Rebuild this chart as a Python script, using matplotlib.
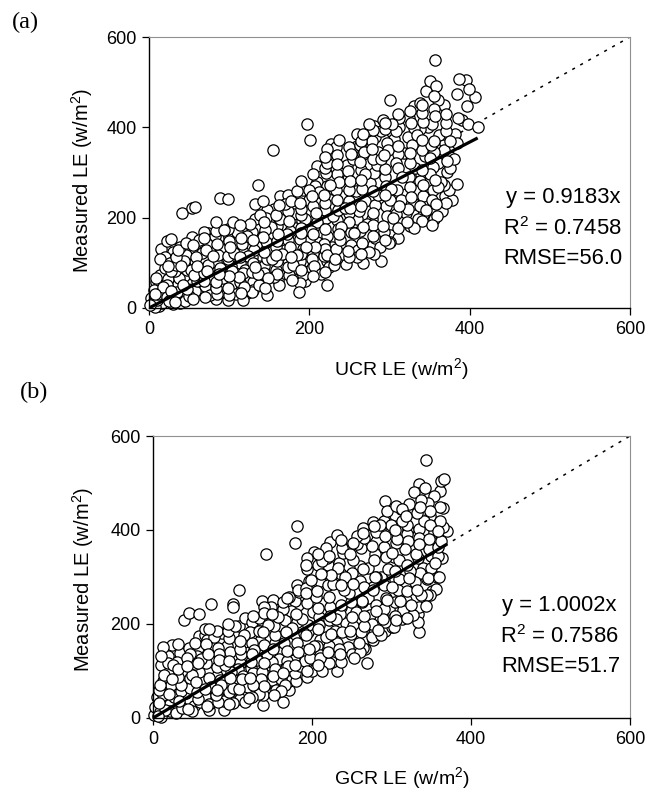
import matplotlib
matplotlib.use('Agg')
import matplotlib.pyplot as plt

# Werte (x, y in w/m2)
ucr_edge = [(41,210),(54,221),(58,224),(88,244),(98,241),(136,272),(155,350),(197,407),(201,372),(301,461),
    (357,549),(387,508),(396,504),(351,502),(358,491),(346,480),(399,484),(384,474),(407,467),(361,460),
    (397,447),(330,447),(338,453),(386,420),(391,416),(398,407),(411,400),(382,386),(368,386),
    (384,366),(375,335),(375,311),(384,274),(369,247),(359,204),(353,184),(342,206),(330,177),(300,147),(290,103),
    (22,149),(27,153),(15,130),(14,109),(39,136),(30,125),(54,157),(69,169),(73,167),(84,190),(105,190),(86,156),
    (115,175),(126,186),(132,230),(142,238),(139,205),(164,248),(174,250),(189,282),(190,244),(184,258),(199,261),
    (210,280),(210,315),(222,352),(227,362),(237,372),(234,339),(231,325),(221,298),(222,322),(247,316),(260,386),
    (267,386),(259,359),(263,361),(275,408),(281,403),(292,416),(303,408),(303,390),(286,346),
    (1,7),(12,4),(39,12),(50,26),(84,21),(98,18),(117,18),(122,33),(147,29),(137,52),(161,63),(156,68),(187,35),
    (195,59),(188,55),(222,52),(184,66),(203,88),(231,96),(222,105),(267,99),(281,119),(256,130),(261,129),
    (299,144),(279,140)]
ucr_inner = [(3,22),(6,40),(9,58),(5,12),(11,30),(14,72),(16,10),(18,46),(20,88),(8,2),
    (22,24),(24,64),(26,100),(28,38),(30,8),(32,82),(34,112),(36,54),(38,26),(40,94),
    (44,70),(46,118),(48,42),(50,135),(52,84),(55,20),(57,105),(60,60),(62,150),(64,34),
    (66,122),(68,78),(70,48),(72,142),(74,96),(76,28),(78,64),(80,116),(82,160),(84,44),
    (88,88),(90,130),(92,66),(94,172),(96,34),(98,108),(100,148),(102,52),(104,82),(106,122),
    (108,30),(110,168),(112,68),(114,100),(116,142),(118,46),(120,84),(122,160),(124,116),(126,62),
    (128,36),(130,100),(132,178),(134,138),(136,76),(138,118),(140,52),(142,158),(144,94),(146,200),
    (148,66),(150,130),(152,180),(154,108),(156,220),(158,84),(160,148),(162,52),(164,196),(166,120),
    (168,78),(170,230),(172,164),(174,100),(176,136),(178,62),(180,208),(182,178),(184,118),(186,86),
    (188,152),(190,220),(192,72),(194,196),(196,134),(198,104),(200,240),(202,170),(204,120),(206,92),
    (208,210),(210,146),(212,256),(214,76),(216,186),(218,116),(220,232),(222,160),(224,90),(226,272),
    (228,134),(230,204),(232,108),(234,296),(236,176),(238,150),(240,248),(242,120),(244,222),(246,98),
    (248,286),(250,190),(252,140),(254,330),(256,166),(258,260),(260,112),(262,214),(264,306),(266,144),
    (268,346),(270,238),(272,186),(274,124),(276,276),(278,370),(280,210),(282,156),(284,316),(286,250),
    (288,136),(290,392),(292,182),(294,290),(296,226),(298,350),(300,162),(302,264),(304,200),(306,374),
    (308,320),(310,178),(312,400),(314,240),(316,290),(318,344),(320,210),(322,190),(324,420),(326,268),
    (328,360),(330,230),(332,310),(334,384),(336,196),(338,282),(340,432),(342,248),(344,336),(346,218),
    (348,400),(350,296),(352,360),(354,262),(356,440),(358,230),(360,322),(362,382),(364,280),(366,214),
    (368,350),(370,410),(372,300),(374,262),(376,370),(378,240),(380,330),(100,70),(130,58),(160,104),
    (180,96),(200,148),(220,130),(240,180),(260,196),(280,184),(300,240),(320,252),(340,306),(360,268),
    (250,236),(270,296),(290,330),(310,340),(330,398),(350,332),(230,264),(210,190),(190,178),(170,128)]
ucr_fill = [(10,18),(7,30),(12,48),(9,66),(25,15),(22,50),(27,82),(24,92),(20,112),
    (35,35),(33,14),(37,66),(34,96),(36,128),(32,108),(45,16),(43,52),(47,84),(44,104),(46,144),
    (58,38),(56,72),(60,92),(57,128),(59,112),(55,140),(70,24),(68,60),(72,82),(69,110),(71,128),(68,156),
    (85,32),(83,58),(87,76),(84,102),(86,118),(85,142),(83,170),(100,28),(98,44),(102,92),(99,116),(101,134),(100,160),(98,176),
    (115,34),(113,58),(117,78),(114,112),(116,128),(115,154),(113,184),(130,40),(128,80),(132,90),(129,112),(131,128),(130,150),(128,168),(132,198),
    (145,44),(143,78),(147,108),(144,124),(146,146),(145,172),(143,190),(147,216),(160,76),(158,118),(162,92),(159,136),(161,164),(160,182),(158,206),(162,228),
    (175,74),(173,90),(177,112),(174,150),(176,170),(175,192),(173,214),(177,238),(190,84),(188,104),(192,130),(189,166),(191,192),(190,206),(188,232),(192,262),(189,120),
    (205,70),(203,108),(207,134),(204,164),(206,182),(205,226),(203,248),(207,270),(205,296),(220,80),(218,142),(222,118),(219,176),(221,200),(220,216),(218,250),(222,270),(220,310),(219,335),
    (235,110),(233,130),(237,164),(234,194),(236,218),(235,240),(233,262),(237,280),(235,318),(233,356),(250,112),(248,126),(252,168),(249,210),(251,222),(250,262),(248,304),(252,340),(250,356),(251,282),
    (265,120),(263,170),(267,180),(264,226),(266,264),(265,284),(263,324),(267,340),(265,370),(280,160),(278,196),(282,228),(279,260),(281,298),(280,330),(278,352),(282,378),(280,395),
    (295,150),(293,168),(297,204),(294,250),(296,270),(295,308),(293,338),(297,366),(295,396),(294,410),(310,156),(308,208),(312,226),(309,262),(311,310),(310,358),(308,392),(312,420),(310,430),
    (325,182),(323,220),(327,246),(324,290),(326,322),(325,344),(323,378),(327,410),(325,436),(340,192),(338,226),(342,272),(339,296),(341,350),(340,372),(338,396),(342,412),(340,450),
    (355,196),(353,240),(357,284),(354,312),(356,346),(355,370),(353,408),(357,424),(355,470),(370,232),(368,272),(372,326),(369,366),(371,392),(370,430),(368,450)]

gcr_edge = [(39,209),(45,223),(58,222),(73,242),(101,242),(101,236),(108,272),(142,350),(181,408),(179,372),(292,462),
    (31,157),(24,155),(12,151),(10,132),(19,132),(10,112),(47,137),(48,128),(65,190),(71,190),(58,174),(68,167),
    (94,186),(114,162),(116,213),(133,213),(137,249),(151,252),(171,257),(181,284),(184,268),(192,325),(194,316),
    (202,353),(218,362),(223,374),(231,389),(213,333),(220,326),(244,359),(256,387),(264,404),(277,417),(286,410),
    (296,427),(305,432),(313,445),
    (343,550),(362,505),(366,509),(335,498),(342,490),(328,481),(361,484),(353,472),(337,463),(365,447),
    (312,445),(365,406),(370,397),(356,275),(345,261),(335,183),(333,204),(327,220),(313,210),(301,194),(287,176),
    (1,6),(10,2),(49,14),(70,18),(89,18),(116,34),(138,28),(163,35),(161,57),(171,60),(133,52),(140,69),(194,87),
    (200,101),(213,101),(231,99),(269,118),(260,140),(277,167),(303,194),(292,204),(231,132),(210,135)]
gcr_inner = [(3,24),(5,44),(7,60),(9,12),(11,34),(13,78),(15,18),(17,52),(19,96),(6,4),
    (21,30),(23,70),(25,112),(27,44),(29,10),(31,88),(33,124),(35,58),(37,22),(39,100),
    (41,74),(43,128),(45,40),(47,64),(49,92),(51,26),(53,114),(55,56),(57,148),(59,34),
    (61,126),(63,80),(65,46),(67,158),(69,100),(71,30),(73,66),(75,120),(77,172),(79,50),
    (81,90),(83,136),(85,70),(87,180),(89,36),(91,112),(93,154),(95,56),(97,86),(99,128),
    (101,32),(103,196),(105,72),(107,104),(109,146),(111,52),(113,90),(115,176),(117,122),(119,66),
    (121,42),(123,106),(125,204),(127,144),(129,80),(131,124),(133,186),(135,164),(137,98),(139,224),
    (141,70),(143,136),(145,198),(147,112),(149,236),(151,90),(153,160),(155,60),(157,214),(159,126),
    (161,84),(163,246),(165,176),(167,106),(169,142),(171,78),(173,228),(175,192),(177,124),(179,96),
    (181,160),(183,240),(185,110),(187,210),(189,142),(191,122),(193,276),(195,182),(197,128),(199,294),
    (201,226),(203,154),(205,258),(207,118),(209,198),(211,306),(213,138),(215,244),(217,172),(219,340),
    (221,154),(223,216),(225,120),(227,286),(229,186),(231,160),(233,320),(235,136),(237,236),(239,352),
    (241,300),(243,202),(245,152),(247,266),(249,178),(251,336),(253,128),(255,226),(257,370),(259,160),
    (261,292),(263,250),(265,196),(267,146),(269,390),(271,320),(273,220),(275,172),(277,272),(279,348),
    (281,240),(283,188),(285,400),(287,300),(289,210),(291,364),(293,256),(295,318),(297,232),(299,410),
    (301,278),(303,342),(305,216),(307,380),(309,296),(311,250),(313,420),(315,230),(317,360),(319,270),
    (321,400),(323,312),(325,240),(327,440),(329,290),(331,350),(333,222),(335,382),(337,262),(339,320),
    (341,420),(343,238),(345,296),(347,360),(349,440),(351,270),(353,396),(355,330),(357,300),(359,364),
    (361,420),(363,340),(100,64),(126,70),(150,120),(170,110),(190,180),(210,166),(230,210),(250,214),
    (270,256),(290,284),(310,336),(330,300),(350,320),(240,272),(260,324),(280,300),(300,352),(320,392)]
gcr_fill = [(10,20),(7,32),(12,50),(9,70),(14,92),(22,14),(20,52),(24,84),(21,100),(19,116),
    (33,36),(31,16),(35,70),(32,104),(34,138),(30,120),(44,20),(42,54),(46,86),(43,110),(45,150),
    (56,40),(54,76),(58,98),(55,132),(57,116),(53,160),(68,26),(66,62),(70,86),(67,118),(69,136),(66,176),
    (82,34),(80,60),(84,80),(81,108),(83,124),(82,150),(80,186),(96,30),(94,46),(98,98),(95,122),(97,140),(96,170),(94,200),
    (110,40),(108,62),(112,82),(109,118),(111,136),(110,164),(108,196),(124,44),(122,86),(126,96),(123,120),(125,136),(124,160),(122,184),(126,216),
    (138,50),(136,84),(140,116),(137,134),(139,156),(138,184),(136,208),(140,236),(152,48),(150,80),(154,104),(151,146),(153,176),(152,196),(150,222),(154,244),
    (166,70),(164,96),(168,122),(165,160),(167,184),(166,208),(164,232),(168,256),(180,78),(178,112),(182,140),(179,178),(181,204),(180,222),(178,250),(182,272),
    (194,100),(192,118),(196,146),(193,176),(195,198),(194,244),(192,266),(196,292),(194,340),(208,112),(206,154),(210,128),(207,190),(209,214),(208,234),(206,270),(210,292),(208,326),(207,350),
    (222,116),(220,140),(224,178),(221,208),(223,236),(222,258),(220,282),(224,304),(222,344),(236,120),(234,146),(238,182),(235,222),(237,240),(236,284),(234,330),(238,362),(236,378),(237,306),
    (250,136),(248,186),(252,196),(249,246),(251,286),(250,308),(248,350),(252,372),(264,150),(262,182),(266,216),(263,246),(265,278),(264,318),(262,362),(266,384),(264,394),
    (278,180),(276,200),(280,228),(277,278),(279,300),(278,336),(276,366),(280,396),(278,408),(292,186),(290,232),(294,252),(291,292),(293,342),(292,388),(290,420),(294,440),
    (306,208),(304,246),(308,272),(305,312),(307,354),(306,372),(304,400),(308,424),(306,452),(320,212),(318,252),(322,298),(319,326),(321,376),(320,410),(318,430),(322,456),
    (334,236),(332,272),(336,308),(333,340),(335,370),(334,402),(332,436),(336,450),(334,478),(348,262),(346,298),(350,344),(347,380),(349,410),(348,430),(346,458),
    (360,300),(358,344),(362,376),(359,398),(361,450)]

x_ticks = [0, 200, 400, 600]
y_ticks = [0, 200, 400, 600]
slope_a = 0.9183
slope_b = 1.0002
line_end_a = 410
line_end_b = 370

plt.rcParams['font.family'] = ['Liberation Sans', 'DejaVu Sans']
plt.rcParams['mathtext.fontset'] = 'custom'
plt.rcParams['mathtext.rm'] = 'Liberation Sans'
plt.rcParams['mathtext.default'] = 'regular'

W, H = 660, 795
fig = plt.figure(figsize=(W / 100, H / 100), dpi=100)


def draw_panel(box, pairs, slope, line_end):
    left, top, right, bottom = box
    ax = fig.add_axes([left / W, 1 - bottom / H, (right - left) / W, (bottom - top) / H])
    # Zeichenreihenfolge mischen, damit die Kreise nicht wie Schindeln liegen
    ordered = pairs[::3] + pairs[1::3] + pairs[2::3]
    xs = [p[0] for p in ordered]
    ys = [p[1] for p in ordered]
    ax.plot([0, 600], [0, 600], color='black', lw=1.1, ls=(0, (2, 4)), zorder=1)
    ax.scatter(xs, ys, s=66, facecolor='white', edgecolor='black', linewidth=0.9, clip_on=False, zorder=2)
    ax.plot([0, line_end], [0, slope * line_end], color='black', lw=2.3, solid_capstyle='butt', zorder=3)
    ax.set_xlim(0, 600)
    ax.set_ylim(0, 600)
    ax.set_xticks(x_ticks)
    ax.set_yticks(y_ticks)
    ax.tick_params(length=5, width=0.9, labelsize=13, pad=4)
    ax.spines['top'].set_color('#909090')
    ax.spines['right'].set_color('#909090')
    ax.spines['left'].set_linewidth(1.0)
    ax.spines['bottom'].set_linewidth(1.0)
    return ax


def put(x, y, s, **kw):
    fig.text(x / W, 1 - y / H, s, va='center', **kw)


draw_panel((149, 37, 630, 308), ucr_edge + ucr_inner + ucr_fill, slope_a, line_end_a)
draw_panel((153, 436, 630, 718), gcr_edge + gcr_inner + gcr_fill, slope_b, line_end_b)

put(401, 369, 'UCR LE (w/m$^2$)', fontsize=14, ha='center')
put(402, 778, 'GCR LE (w/m$^2$)', fontsize=14, ha='center')
put(82, 181, 'Measured LE (w/m$^2$)', fontsize=14.5, ha='center', rotation=90)
put(83, 580, 'Measured LE (w/m$^2$)', fontsize=14.5, ha='center', rotation=90)

put(12, 22, '(a)', fontsize=17.5, ha='left', family='Liberation Serif')
put(20, 392, '(b)', fontsize=17.5, ha='left', family='Liberation Serif')

put(620, 197, 'y = 0.9183x', fontsize=15.8, ha='right')
put(622, 229, 'R$^2$ = 0.7458', fontsize=15.8, ha='right')
put(622, 259, 'RMSE=56.0', fontsize=15.8, ha='right')
put(616, 605, 'y = 1.0002x', fontsize=15.8, ha='right')
put(619, 637, 'R$^2$ = 0.7586', fontsize=15.8, ha='right')
put(620, 666, 'RMSE=51.7', fontsize=15.8, ha='right')

fig.savefig('out.png', dpi=100)
